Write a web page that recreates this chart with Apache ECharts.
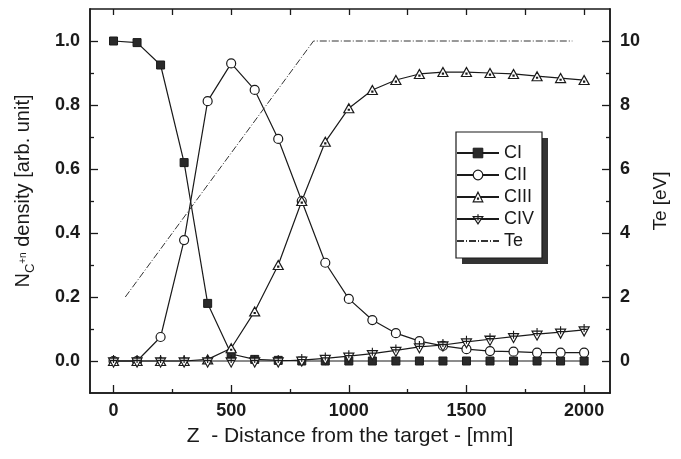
<html>
  <head>
    <meta charset="UTF-8" />
    <script src="https://cdn.jsdelivr.net/npm/echarts@6/dist/echarts.min.js"></script>
    <style>
      html, body { margin: 0; padding: 0; background: #fff; }
      #main { width: 681px; height: 459px; }
    </style>
  </head>
  <body>
    <div id="main"></div>
    <script>
      // distance from target [mm]
      const zValues = [0, 100, 200, 300, 400, 500, 600, 700, 800, 900, 1000,
        1100, 1200, 1300, 1400, 1500, 1600, 1700, 1800, 1900, 2000];
      const ci = [1.0, 0.995, 0.925, 0.62, 0.18, 0.022, 0.005, 0.002, 0, 0, 0,
        0, 0, 0, 0, 0, 0, 0, 0, 0, 0];
      const cii = [0, 0, 0.075, 0.378, 0.812, 0.93, 0.847, 0.694, 0.5, 0.307, 0.194,
        0.128, 0.087, 0.062, 0.047, 0.037, 0.031, 0.029, 0.026, 0.026, 0.026];
      const ciii = [0, 0, 0, 0, 0.005, 0.04, 0.155, 0.3, 0.5, 0.685, 0.79,
        0.847, 0.878, 0.897, 0.903, 0.903, 0.9, 0.897, 0.89, 0.884, 0.878];
      const civ = [0, 0, 0, 0, 0, 0, 0, 0, 0.003, 0.008, 0.015,
        0.023, 0.033, 0.044, 0.05, 0.06, 0.068, 0.076, 0.084, 0.09, 0.097];
      // electron temperature profile
      const teZ = [50, 850, 1950];
      const teValues = [2, 10, 10];

      const xMajor = [0, 500, 1000, 1500, 2000];
      const xMinor = [250, 750, 1250, 1750];
      const xAll = [0, 250, 500, 750, 1000, 1250, 1500, 1750, 2000];
      const yMajor = [0, 0.2, 0.4, 0.6, 0.8, 1.0];
      const yMinor = [0.1, 0.3, 0.5, 0.7, 0.9];
      const teMajor = [0, 2, 4, 6, 8, 10];
      const teMinor = [1, 3, 5, 7, 9];

      const pair = (xs, ys) => xs.map((x, i) => [x, ys[i]]);

      const ink = '#1a1a1a';
      const font = 'Liberation Sans, Arial, sans-serif';
      const triUp = 'path://M5,0 L10,9 L0,9 Z M4.5,5.6 L5.5,5.6 L5.5,6.6 L4.5,6.6 Z';
      const triDownCross = 'path://M0,2 L10,2 L5,11 Z M5,-1 L5,7 M1.5,4.5 L8.5,4.5';

      function xAxisDef(pos, ticks, len, showLabel, showName) {
        return {
          type: 'value', position: pos, min: -100, max: 2110,
          splitLine: { show: false },
          axisLine: { show: true, onZero: false, lineStyle: { color: ink, width: 1.5 } },
          axisTick: { show: true, inside: true, length: len, customValues: ticks,
            lineStyle: { color: ink, width: 1.3 } },
          axisLabel: { show: showLabel, customValues: ticks, margin: 9, formatter: v => String(v),
            color: ink, fontSize: 18, fontWeight: 'bold', fontFamily: font },
          name: showName ? 'Z  - Distance from the target - [mm]' : '',
          nameLocation: 'middle', nameGap: 33,
          nameTextStyle: { color: ink, fontSize: 21, fontFamily: font }
        };
      }

      function yAxisDef(pos, min, max, ticks, len, showLabel, fmt) {
        return {
          type: 'value', position: pos, min: min, max: max,
          splitLine: { show: false },
          axisLine: { show: true, onZero: false, lineStyle: { color: ink, width: 1.5 } },
          axisTick: { show: true, inside: true, length: len, customValues: ticks,
            lineStyle: { color: ink, width: 1.3 } },
          axisLabel: { show: showLabel, customValues: ticks, margin: 10, formatter: fmt,
            color: ink, fontSize: 18, fontWeight: 'bold', fontFamily: font }
        };
      }

      const leftAxis = yAxisDef('left', -0.1, 1.1, yMajor, 8, true, v => v.toFixed(1));
      leftAxis.name = '{a|N}{b|C}{c|+n}{a| density [arb. unit]}';
      leftAxis.nameLocation = 'middle';
      leftAxis.nameRotate = 90;
      leftAxis.nameGap = 53;
      leftAxis.nameTextStyle = {
        color: ink, fontFamily: font, padding: [0, 0, 0, 20],
        rich: {
          a: { fontSize: 20, fontFamily: font, color: ink, lineHeight: 28, verticalAlign: 'middle' },
          b: { fontSize: 13, fontFamily: font, color: ink, lineHeight: 28, verticalAlign: 'bottom' },
          c: { fontSize: 10, fontFamily: font, color: ink, lineHeight: 28, verticalAlign: 'middle' }
        }
      };

      const rightAxis = yAxisDef('right', -1, 11, teMajor, 8, true, v => String(v));
      rightAxis.name = 'Te [eV]';
      rightAxis.nameLocation = 'middle';
      rightAxis.nameRotate = 90;
      rightAxis.nameGap = 36;
      rightAxis.nameTextStyle = { color: ink, fontSize: 19, fontFamily: font };

      const lineCommon = {
        type: 'line', xAxisIndex: 0, yAxisIndex: 0,
        lineStyle: { color: ink, width: 1.2 },
        itemStyle: { color: '#fff', borderColor: ink, borderWidth: 1.2 },
        emphasis: { disabled: true },
        animation: false
      };

      const hollow = { color: '#fff', borderColor: ink, borderWidth: 1.2 };

      const option = {
        backgroundColor: '#fff',
        animation: false,
        grid: { left: 90, right: 71, top: 9, bottom: 66 },
        // legend frame with its drop shadow
        graphic: [
          { type: 'rect', z: 90, shape: { x: 462, y: 138, width: 86, height: 126 },
            style: { fill: '#333' } },
          { type: 'rect', z: 91, shape: { x: 456, y: 132, width: 86, height: 126 },
            style: { fill: '#fff', stroke: ink, lineWidth: 1.2 } }
        ],
        xAxis: [
          xAxisDef('bottom', xMajor, 8, true, true),
          xAxisDef('bottom', xMinor, 4, false, false),
          xAxisDef('top', xAll, 6, false, false)
        ],
        yAxis: [
          leftAxis,
          rightAxis,
          yAxisDef('left', -0.1, 1.1, yMinor, 4, false),
          yAxisDef('right', -1, 11, teMinor, 4, false)
        ],
        legend: {
          orient: 'vertical', left: 456, top: 132, z: 95,
          padding: [12, 12, 10, 0],
          itemWidth: 42, itemHeight: 12, itemGap: 4,
          textStyle: { color: ink, fontSize: 18, fontFamily: font },
          data: [
            { name: 'CI', itemStyle: { color: '#2a2a2a', borderColor: ink, borderWidth: 1 } },
            { name: 'CII', itemStyle: hollow },
            { name: 'CIII', itemStyle: hollow },
            { name: 'CIV', itemStyle: hollow },
            { name: 'Te', itemStyle: { color: 'rgba(0,0,0,0)', borderColor: 'rgba(0,0,0,0)' } }
          ]
        },
        series: [
          Object.assign({}, lineCommon, {
            name: 'CI', data: pair(zValues, ci), symbol: 'rect', symbolSize: 8,
            itemStyle: { color: '#2a2a2a', borderColor: ink, borderWidth: 1 }
          }),
          Object.assign({}, lineCommon, {
            name: 'CII', data: pair(zValues, cii), symbol: 'circle', symbolSize: 9
          }),
          Object.assign({}, lineCommon, {
            name: 'CIII', data: pair(zValues, ciii), symbol: triUp, symbolSize: [10, 9]
          }),
          Object.assign({}, lineCommon, {
            name: 'CIV', data: pair(zValues, civ), symbol: triDownCross, symbolSize: [10, 12]
          }),
          {
            name: 'Te', type: 'line', xAxisIndex: 0, yAxisIndex: 1,
            data: pair(teZ, teValues), symbol: 'none',
            lineStyle: { color: '#333', width: 1, type: [7, 2, 1, 2] },
            itemStyle: { color: '#333' },
            emphasis: { disabled: true }
          }
        ]
      };

      const chart = echarts.init(document.getElementById('main'), null, { renderer: 'canvas' });
      chart.setOption(option);
    </script>
  </body>
</html>
